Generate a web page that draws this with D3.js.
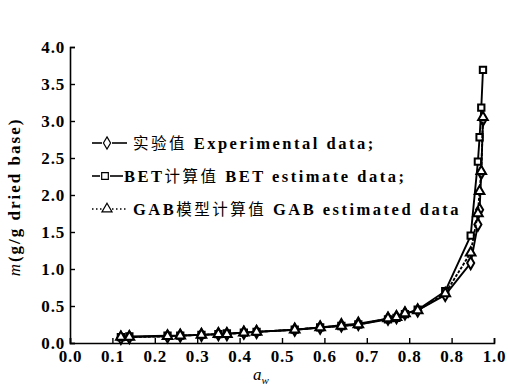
<!DOCTYPE html>
<meta charset="utf-8">
<script src="https://cdn.jsdelivr.net/npm/d3@7"></script>
<style>
body { margin: 0; background: #fff; }
text { font-family: "Liberation Serif", "DejaVu Serif", serif; fill: #000; }
.tick text { font-size: 17px; font-weight: bold; letter-spacing: 0.8px; }
.cjk { font-family: "Noto Sans CJK SC", sans-serif; }
</style>
<body>
<script>

// water activity and moisture content (g/g dried base)
var aw = [0.12, 0.14, 0.23, 0.26, 0.31, 0.35, 0.37, 0.41, 0.44, 0.53, 0.59, 0.64, 0.68, 0.75, 0.77, 0.79, 0.82, 0.885, 0.945, 0.962, 0.966, 0.970, 0.974];
var expData = [0.07, 0.08, 0.09, 0.10, 0.11, 0.12, 0.12, 0.14, 0.15, 0.18, 0.21, 0.24, 0.26, 0.33, 0.35, 0.40, 0.44, 0.65, 1.08, 1.60, 1.80, 2.30, 3.02];
var betData = [0.08, 0.09, 0.10, 0.10, 0.11, 0.12, 0.13, 0.14, 0.15, 0.18, 0.21, 0.23, 0.25, 0.32, 0.34, 0.39, 0.45, 0.70, 1.45, 2.45, 2.78, 3.18, 3.69];
var gabData = [0.08, 0.08, 0.09, 0.10, 0.11, 0.12, 0.12, 0.14, 0.15, 0.18, 0.21, 0.23, 0.25, 0.33, 0.35, 0.40, 0.44, 0.67, 1.22, 1.75, 2.05, 2.32, 3.05];

var xTicks = [0, 0.1, 0.2, 0.3, 0.4, 0.5, 0.6, 0.7, 0.8, 0.9, 1.0];
var xTickLabels = ["0.0", "0.1", "0.2", "0.3", "0.4", "0.5", "0.6", "0.7", "0.8", "0.8", "1.0"];
var yTicks = [0, 0.5, 1.0, 1.5, 2.0, 2.5, 3.0, 3.5, 4.0];

var legendLabels = [
  [["实验值", true], [" Experimental data;", false]],
  [["BET", false], ["计算值", true], [" BET estimate data;", false]],
  [["GAB", false], ["模型计算值", true], [" GAB estimated data", false]]
];

var margin = {top: 47, right: 14, bottom: 46, left: 70},
    width = 508 - margin.left - margin.right,
    height = 389 - margin.top - margin.bottom;

var x = d3.scaleLinear().domain([0, 1]).range([0, width]);
var y = d3.scaleLinear().domain([0, 4]).range([height, 0]);

var svg = d3.select("body").append("svg")
    .attr("width", 508)
    .attr("height", 389)
  .append("g")
    .attr("transform", "translate(" + margin.left + "," + margin.top + ")");

// axes, ticks point inward
var xAxis = svg.append("g")
    .attr("transform", "translate(0," + height + ")")
    .call(d3.axisBottom(x).tickValues(xTicks).tickSize(-5).tickPadding(10)
      .tickFormat(function(d, i) { return xTickLabels[i]; }));
var yAxis = svg.append("g")
    .call(d3.axisLeft(y).tickValues(yTicks).tickSize(-5).tickPadding(5)
      .tickFormat(d3.format(".1f")));
[xAxis, yAxis].forEach(function(a) {
  a.select(".domain").attr("stroke", "#000").attr("stroke-width", 1.6);
  a.selectAll(".tick line").attr("stroke", "#000").attr("stroke-width", 1.4);
});
xAxis.selectAll(".tick text").attr("dy", "0.55em");
yAxis.selectAll(".tick text").attr("dy", "0.35em");

// series
var series = [
  {vals: expData, sym: d3.symbolDiamond, size: 44, dash: null},
  {vals: betData, sym: d3.symbolSquare, size: 40, dash: null},
  {vals: gabData, sym: d3.symbolTriangle, size: 40, dash: "3,1.5"}
];

var line = d3.line()
    .x(function(d) { return x(d[0]); })
    .y(function(d) { return y(d[1]); });

series.forEach(function(s) {
  var pts = aw.map(function(a, i) { return [a, s.vals[i]]; });
  svg.append("path")
      .datum(pts)
      .attr("fill", "none")
      .attr("stroke", "#000")
      .attr("stroke-width", 1.9)
      .attr("stroke-dasharray", s.dash)
      .attr("d", line);
  svg.selectAll(null)
      .data(pts)
    .enter().append("path")
      .attr("transform", function(d) { return "translate(" + x(d[0]) + "," + y(d[1]) + ")"; })
      .attr("d", d3.symbol().type(s.sym).size(s.size))
      .attr("fill", "#fff")
      .attr("stroke", "#000")
      .attr("stroke-width", 2);
});

// legend
var lg = svg.append("g").attr("transform", "translate(" + (92 - margin.left) + "," + (143 - margin.top) + ")");
var legendSyms = [d3.symbolDiamond, d3.symbolSquare, d3.symbolTriangle];
var legendText = [133, 124, 133];
var symXs = [15, 13, 15];
legendLabels.forEach(function(parts, i) {
  var row = lg.append("g").attr("transform", "translate(0," + (i * 33) + ")");
  var dash = i === 2 ? "1.5,2.5" : null;
  var symX = symXs[i];
  var endX = legendText[i] - 92 - (i === 1 ? 1 : 6);
  row.append("line").attr("x1", 0).attr("x2", symX - 5)
      .attr("stroke", "#000").attr("stroke-width", 1.6).attr("stroke-dasharray", dash);
  row.append("line").attr("x1", symX + 5).attr("x2", endX)
      .attr("stroke", "#000").attr("stroke-width", 1.6).attr("stroke-dasharray", dash);
  row.append("path")
      .attr("transform", "translate(" + symX + ",0)")
      .attr("d", d3.symbol().type(legendSyms[i]).size(44))
      .attr("fill", "#fff").attr("stroke", "#000").attr("stroke-width", 1.2);
  var t = row.append("text")
      .attr("x", legendText[i] - 92)
      .attr("y", 5.5)
      .style("letter-spacing", "2.5px");
  parts.forEach(function(p) {
    t.append("tspan").text(p[0]).attr("class", p[1] ? "cjk" : null)
      .style("font-weight", p[1] ? "normal" : "bold")
      .style("font-size", p[1] ? "15.5px" : "16.5px");
  });
});

// axis titles
var yt = svg.append("text")
    .attr("transform", "translate(" + (20 - margin.left) + "," + (height / 2 + 2) + ") rotate(-90)")
    .attr("text-anchor", "middle")
    .style("font-size", "17px")
    .style("font-weight", "bold")
    .style("letter-spacing", "2px");
yt.append("tspan").text("m").style("font-style", "italic").style("font-weight", "normal");
yt.append("tspan").text("(g/g dried base)");

var xt = svg.append("text")
    .attr("x", x(0.45))
    .attr("y", height + 37)
    .attr("text-anchor", "middle")
    .style("font-size", "17px")
    .style("font-style", "italic");
xt.append("tspan").text("a");
xt.append("tspan").text("w").attr("dy", 4).style("font-size", "11px");

</script>
</body>
